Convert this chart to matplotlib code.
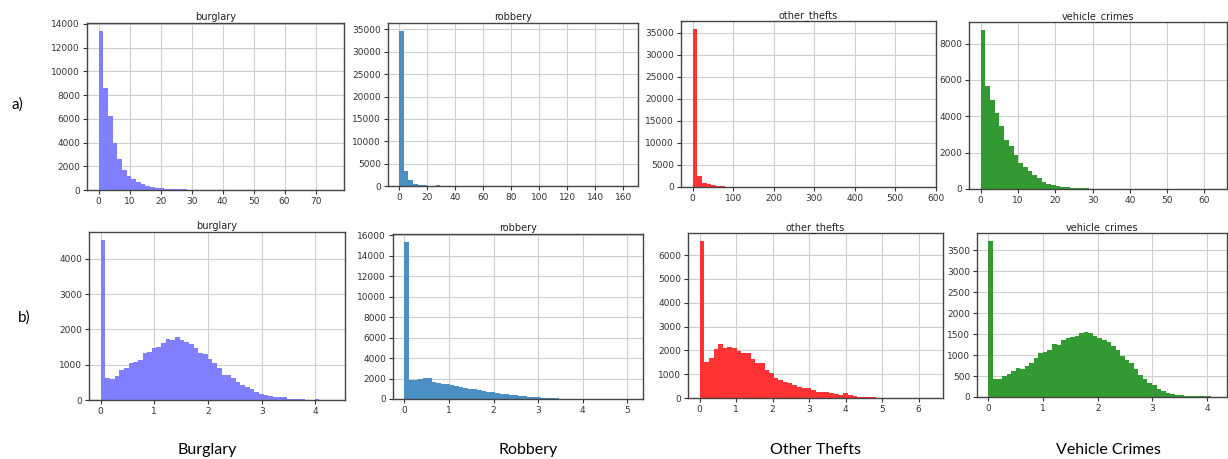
import numpy as np
import matplotlib
matplotlib.use("Agg")
import matplotlib.pyplot as plt

# --- data: 50-bin histogram counts ---
crimes = ["burglary", "robbery", "other_thefts", "vehicle_crimes"]
captions = ["Burglary", "Robbery", "Other Thefts", "Vehicle Crimes"]
colors = ["#8080ff", "#4a90c4", "#ff3333", "#339933"]

# a) raw counts, data range 0..max
raw_max = [75.4, 162.4, 572.0, 62.9]
raw_burglary = [13400, 8600, 6200, 3980, 2580, 1650, 1180, 900, 670, 480,
                360, 260, 200, 150, 120, 90, 70, 55, 45, 35,
                28, 20, 15, 10, 8, 6, 5, 4, 3, 2,
                2, 1, 1, 1, 0, 0, 1, 0, 0, 0,
                0, 0, 0, 0, 0, 0, 0, 0, 0, 1]
raw_robbery = [34700, 3300, 1300, 500, 250, 150, 100, 80, 120, 30,
               20, 15, 10, 8, 5, 4, 3, 2, 2, 1,
               1, 1, 0, 1, 0, 0, 0, 0, 0, 0,
               0, 0, 0, 0, 0, 0, 0, 0, 0, 0,
               0, 0, 0, 0, 0, 0, 0, 0, 0, 1]
raw_other = [35900, 2420, 900, 600, 400, 250, 150, 60, 30, 20,
             12, 8, 5, 4, 3, 2, 1, 1, 1, 0,
             0, 0, 0, 0, 0, 0, 0, 0, 0, 0,
             0, 0, 0, 0, 0, 0, 0, 0, 0, 0,
             0, 0, 0, 0, 0, 0, 0, 0, 0, 1]
raw_vehicle = [8750, 5660, 4870, 4190, 3460, 2720, 2350, 1890, 1430, 1200,
               970, 750, 610, 400, 300, 220, 165, 130, 100, 80,
               60, 45, 35, 25, 20, 15, 12, 8, 5, 3,
               2, 1, 1, 0, 0, 0, 0, 0, 0, 0,
               0, 0, 0, 0, 0, 0, 0, 0, 0, 1]

# b) log1p counts, data range 0..log1p(max)
log_burglary = [4535, 630, 590, 680, 850, 910, 1035, 1080, 1130, 1320,
                1365, 1480, 1500, 1620, 1730, 1710, 1780, 1710, 1650, 1600,
                1480, 1340, 1310, 1150, 1035, 895, 715, 705, 630, 520,
                425, 365, 310, 235, 160, 150, 115, 85, 75, 75,
                40, 30, 25, 15, 10, 10, 30, 5, 0, 3]
log_robbery = [15350, 1850, 1850, 1950, 2010, 2080, 1640, 1560, 1490, 1420,
               1330, 1250, 1160, 1080, 1010, 940, 870, 800, 730, 660,
               580, 520, 450, 400, 350, 300, 260, 220, 180, 150,
               120, 100, 85, 70, 30, 20, 15, 10, 8, 5,
               4, 3, 2, 2, 1, 1, 0, 0, 0, 1]
log_other = [6600, 1500, 1680, 2060, 2270, 2080, 2150, 2080, 1980, 1890,
             1870, 1650, 1470, 1470, 1190, 1070, 855, 760, 670, 620,
             530, 480, 435, 405, 320, 250, 240, 240, 195, 155,
             125, 195, 110, 85, 55, 40, 30, 25, 20, 15,
             15, 10, 8, 0, 6, 0, 0, 0, 0, 1]
log_vehicle = [3720, 440, 440, 500, 540, 620, 690, 660, 730, 820,
               920, 1050, 1065, 1110, 1260, 1250, 1350, 1410, 1430, 1460,
               1530, 1545, 1530, 1450, 1410, 1350, 1310, 1210, 1110, 985,
               880, 810, 660, 520, 420, 335, 280, 185, 145, 90,
               65, 50, 40, 35, 30, 25, 25, 20, 15, 10]

raw_counts = [raw_burglary, raw_robbery, raw_other, raw_vehicle]
log_counts = [log_burglary, log_robbery, log_other, log_vehicle]

W, H = 1228, 459
fig = plt.figure(figsize=(W / 100, H / 100), dpi=100)

# axes boxes in pixels: left, top, right, bottom
boxes_a = [(87, 23, 344, 190), (388, 23, 638, 186), (681, 21, 936, 187), (969, 22, 1227, 189)]
boxes_b = [(89, 232, 345, 400), (393, 234, 643, 399), (688, 233, 943, 398), (977, 233, 1227, 397)]


def add_ax(box):
    l, t, r, b = box
    return fig.add_axes([l / W, 1 - b / H, (r - l) / W, (b - t) / H])


def draw_hist(ax, counts, vmax, color, title):
    edges = np.linspace(0, vmax, len(counts) + 1)
    ax.hist(edges[:-1], bins=edges, weights=counts, color=color)
    ax.set_title(title, fontsize=7, pad=2, color="#222222")
    ax.grid(True, color="#cfcfcf", linewidth=0.8)
    ax.set_axisbelow(True)
    ax.tick_params(labelsize=6.5, length=3, pad=2, colors="#333333")
    for s in ax.spines.values():
        s.set_color("#444444")
        s.set_linewidth(1.0)


for i in range(4):
    ax = add_ax(boxes_a[i])
    draw_hist(ax, raw_counts[i], raw_max[i], colors[i], crimes[i])
    ax = add_ax(boxes_b[i])
    draw_hist(ax, log_counts[i], np.log1p(raw_max[i]), colors[i], crimes[i])

fig.text(12 / W, 1 - 105 / H, "a)", fontsize=11, family="Lato", va="center")
fig.text(18 / W, 1 - 318 / H, "b)", fontsize=11, family="Lato", va="center")

cap_x = [207, 528, 816, 1108]
for x, c in zip(cap_x, captions):
    fig.text(x / W, 1 - 450 / H, c, fontsize=11.5, family="Lato", ha="center", va="center")

fig.savefig("out.png", dpi=100)
